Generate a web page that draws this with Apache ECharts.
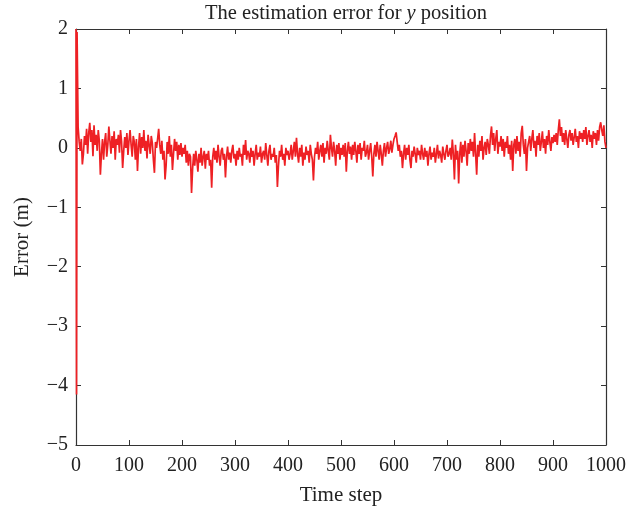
<!DOCTYPE html>
<html>
<head>
<meta charset="utf-8">
<script src="https://cdn.jsdelivr.net/npm/echarts@6/dist/echarts.min.js"></script>
<style>
html,body{margin:0;padding:0;background:#fff;}
#chart{width:643px;height:511px;}
</style>
</head>
<body>
<div id="chart"></div>
<script>
// Initial transient (time steps and errors)
var initSteps = [0, 1, 2];
var initErr = [2.0, -4.15, 1.95];
// Main error values, sampled every 2 time steps starting at step 4
var errRows = [
 [0.35,0.1,-0.05,0.15,-0.28,-0.1,0.2,0.05,0.32,-0.1,0.25,0.42,0.1,0.3,-0.14,0.38,0.05,0.22,-0.05,0.3,0.12,-0.45,-0.1,0.15,-0.2],
 [0.1,0.25,-0.15,0.05,0.36,0.12,-0.1,0.2,0.0,0.28,-0.2,0.15,0.05,0.22,-0.08,0.3,0.1,-0.34,-0.05,0.18,0.0,0.25,-0.12,0.12,0.3],
 [0.05,-0.15,0.2,0.1,-0.2,0.15,-0.39,0.02,0.25,-0.1,0.18,0.0,0.3,-0.05,0.12,-0.18,0.22,0.05,-0.1,0.2,0.08,-0.2,-0.42,0.1,0.0],
 [0.15,0.32,0.05,-0.1,0.12,-0.2,-0.05,-0.53,-0.3,0.1,-0.1,0.2,-0.15,0.05,-0.37,-0.1,0.15,-0.05,0.1,-0.2,0.05,-0.12,0.08,-0.15,0.0],
 [-0.1,0.05,-0.25,-0.05,-0.3,-0.1,-0.15,-0.76,-0.35,-0.1,-0.3,-0.05,-0.2,-0.4,-0.1,-0.25,0.0,-0.3,-0.15,-0.05,-0.35,-0.1,-0.2,-0.05,-0.3],
 [-0.2,-0.67,-0.15,0.0,-0.2,-0.05,-0.25,0.05,-0.15,-0.3,-0.05,0.0,-0.2,-0.1,-0.5,-0.15,0.02,-0.2,-0.08,-0.25,-0.05,0.05,-0.18,-0.1,-0.3],
 [-0.05,-0.2,0.0,-0.15,-0.1,-0.3,0.05,-0.12,0.13,-0.2,-0.05,-0.1,-0.25,0.0,-0.15,-0.05,-0.3,-0.1,0.05,-0.2,-0.08,-0.15,0.02,-0.25,-0.1],
 [-0.05,-0.2,0.08,-0.12,-0.3,-0.05,0.05,-0.2,-0.1,-0.15,0.0,-0.25,-0.12,-0.66,-0.3,-0.05,-0.15,0.05,-0.2,-0.1,-0.3,0.0,-0.12,-0.05,-0.2],
 [-0.1,0.05,-0.2,-0.05,0.1,-0.15,0.17,-0.1,-0.25,0.0,-0.15,0.05,-0.3,-0.08,-0.2,0.02,-0.12,-0.05,-0.25,0.05,-0.1,-0.2,-0.55,-0.15,0.0],
 [-0.1,0.1,-0.2,-0.05,0.05,-0.15,0.08,-0.25,0.0,-0.1,0.12,-0.05,-0.2,0.22,0.0,-0.15,0.1,-0.05,-0.3,0.05,-0.1,0.08,-0.2,0.0,-0.12],
 [0.05,-0.15,0.08,-0.4,-0.05,0.1,-0.1,0.02,-0.2,0.05,-0.12,0.1,-0.05,-0.25,0.05,-0.1,0.08,-0.2,0.0,-0.05,0.12,-0.15,-0.08,0.05,-0.2],
 [-0.05,0.08,-0.15,-0.48,-0.1,0.05,-0.15,0.1,-0.05,-0.2,0.05,-0.1,-0.3,-0.05,0.08,-0.15,0.0,0.1,-0.1,-0.02,0.12,-0.08,0.05,0.15,0.2],
 [0.26,0.1,-0.05,0.05,-0.15,-0.05,-0.34,-0.1,0.05,-0.2,0.0,-0.12,0.05,-0.2,-0.34,-0.05,-0.15,0.02,-0.1,-0.25,0.0,-0.12,-0.05,-0.2,0.05],
 [-0.1,-0.2,0.0,-0.15,-0.05,-0.3,-0.1,0.02,-0.2,-0.08,-0.15,0.0,-0.25,-0.1,0.05,-0.18,-0.05,-0.12,-0.25,0.02,-0.1,-0.2,-0.05,0.05,-0.15],
 [-0.1,0.0,-0.2,0.14,-0.1,-0.53,0.05,-0.2,-0.05,-0.6,-0.1,0.1,-0.25,0.05,-0.15,0.12,-0.05,-0.3,0.08,-0.1,0.15,-0.05,0.1,-0.15,0.25],
 [-0.1,-0.45,0.05,-0.15,0.12,-0.05,0.2,-0.2,0.0,0.1,-0.12,0.15,0.05,-0.1,0.2,0.36,0.05,0.25,-0.05,0.15,0.3,-0.1,0.1,0.02,0.2],
 [-0.05,0.15,-0.15,0.1,0.0,0.2,-0.1,0.05,-0.2,0.12,-0.39,0.05,0.15,-0.1,0.2,-0.05,0.1,-0.15,0.25,0.37,0.05,-0.1,0.15,-0.39,0.0],
 [0.1,0.2,-0.05,0.15,0.3,0.0,0.12,-0.15,0.2,0.05,0.25,-0.05,0.1,0.28,0.0,0.15,-0.1,0.2,0.05,0.3,0.1,-0.05,0.18,0.08,0.22],
 [0.1,0.25,0.05,0.3,0.48,0.2,0.35,0.1,0.25,0.05,0.3,0.15,0.0,0.22,0.3,0.12,0.25,0.05,0.18,0.32,0.1,0.2,0.0,0.28,0.15],
 [0.25,0.1,0.3,0.15,0.35,0.05,0.2,0.3,0.1,0.22,0.0,0.28,0.15,0.25,0.05,0.3,0.12,0.35,0.43,0.3,0.2,0.38,0.1,0.0]
];
var mainStart = 4, mainStep = 2;
var xTicks = [0,100,200,300,400,500,600,700,800,900,1000];
var yTicks = [-5,-4,-3,-2,-1,0,1,2];

var data = [];
for (var i = 0; i < initSteps.length; i++) data.push([initSteps[i], initErr[i]]);
var k = 0;
errRows.forEach(function(row){
  row.forEach(function(v){ data.push([mainStart + mainStep * k, v]); k++; });
});

var font = '"Liberation Serif","DejaVu Serif",serif';
var frame = '#333';
function xAxis(pos, show){
  return {type:'value', position:pos, min:xTicks[0], max:xTicks[xTicks.length-1], interval:100,
    axisLine:{show:true, onZero:false, lineStyle:{color:frame, width:1.2}},
    axisTick:{show:true, inside:true, length:5, lineStyle:{color:frame, width:1}},
    axisLabel:{show:show, color:'#222', fontFamily:font, fontSize:20, margin:11,
      formatter:function(v){ return String(v); }},
    splitLine:{show:false},
    name: show ? 'Time step' : '', nameLocation:'middle', nameGap:40,
    nameTextStyle:{color:'#222', fontFamily:font, fontSize:21}};
}
function yAxis(pos, show){
  return {type:'value', position:pos, min:yTicks[0], max:yTicks[yTicks.length-1], interval:1,
    axisLine:{show:true, onZero:false, lineStyle:{color:frame, width:1.2}},
    axisTick:{show:true, inside:true, length:5, lineStyle:{color:frame, width:1}},
    axisLabel:{show:show, color:'#222', fontFamily:font, fontSize:20, margin:8,
      formatter:function(v){ return v < 0 ? '\u2212' + Math.abs(v) : String(v); }},
    splitLine:{show:false},
    name: show ? 'Error (m)' : '', nameLocation:'middle', nameGap:43, nameRotate:90,
    nameTextStyle:{color:'#222', fontFamily:font, fontSize:21}};
}

var chart = echarts.init(document.getElementById('chart'), null, {renderer:'canvas'});
chart.setOption({
  animation:false,
  backgroundColor:'#fff',
  title:{
    text:'{a|The estimation error for }{b|y}{a| position}',
    left:341, top:-2, textAlign:'center',
    textStyle:{fontWeight:'normal', rich:{
      a:{fontFamily:font, fontSize:20.5, color:'#222', fontWeight:'normal'},
      b:{fontFamily:font, fontSize:20.5, color:'#222', fontStyle:'italic', fontWeight:'normal'}
    }}
  },
  grid:{left:76, top:29, right:37, bottom:65, containLabel:false},
  xAxis:[xAxis('bottom', true), xAxis('top', false)],
  yAxis:[yAxis('left', true), yAxis('right', false)],
  series:[{
    type:'line', data:data, xAxisIndex:0, yAxisIndex:0,
    showSymbol:false, symbol:'none',
    lineStyle:{color:'#ee2024', width:1.7},
    clip:true
  }]
});
</script>
</body>
</html>
